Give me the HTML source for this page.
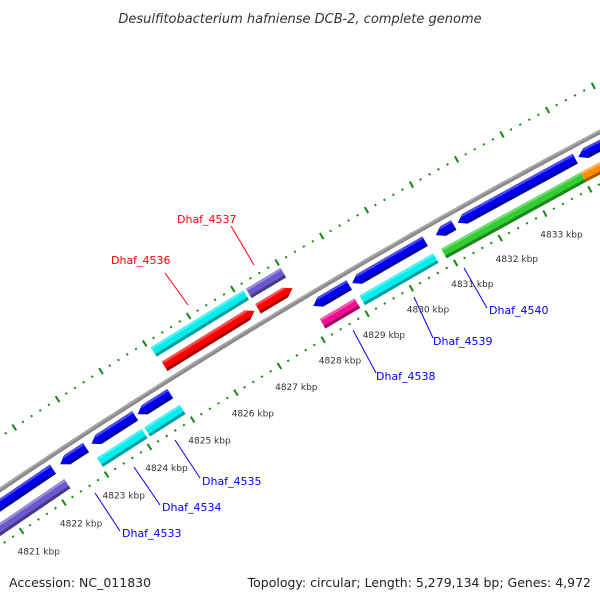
<!DOCTYPE html>
<html><head><meta charset="utf-8"><style>
html,body{margin:0;padding:0;background:#fff;}
svg{display:block;font-family:"DejaVu Sans","Liberation Sans",sans-serif;}
</style></head><body>
<svg id="map" width="600" height="600" viewBox="0 0 600 600" xmlns="http://www.w3.org/2000/svg">
<text x="300" y="23" text-anchor="middle" font-size="13" font-style="italic" fill="#333">Desulfitobacterium hafniense DCB-2, complete genome</text>
<text x="9" y="587" font-size="12.5" fill="#222">Accession: NC_011830</text>
<text x="591" y="587" text-anchor="end" font-size="12.5" fill="#222">Topology: circular; Length: 5,279,134 bp; Genes: 4,972</text>
<g id="ticks"></g>
<g id="backbone"></g>
<g id="feats"></g>
<g id="labels"></g>
</svg>
<script>
// data
const featStart = [4818.5, 4822.35, 4823.08, 4824.15, 4828.17, 4829.05, 4830.93, 4831.42, 4834.1, 4818.5, 4823.02, 4824.12, 4828.15, 4829.05, 4830.89, 4834.0, 4825.09, 4827.22, 4825.06, 4827.22];
const featEnd   = [4822.18, 4822.95, 4824.09, 4824.90, 4828.98, 4830.69, 4831.33, 4834.03, 4837.0, 4822.26, 4824.06, 4824.94, 4828.94, 4830.71, 4834.0, 4837.0, 4827.14, 4828.0, 4827.16, 4828.0];
const featRow   = [2,2,2,2,2,2,2,2,2, 3,3,3,3,3,3,3, 1,1, 0,0];
const featStrand= [-1,-1,-1,-1,-1,-1,-1,-1,-1, 0,0,0,0,0,0,0, 1,1, 0,0];
const featColor = ["#0000ee","#0000ee","#0000ee","#0000ee","#0000ee","#0000ee","#0000ee","#0000ee","#0000ee","#6a5acd","#00eeee","#00eeee","#ee1090","#00eeee","#33cc33","#ff8c00","#ff0000","#ff0000","#00eeee","#6a5acd"];
const kbpTicks = [4821,4822,4823,4824,4825,4826,4827,4828,4829,4830,4831,4832,4833];
const labelNames = ["Dhaf_4536","Dhaf_4537","Dhaf_4538","Dhaf_4539","Dhaf_4540","Dhaf_4535","Dhaf_4534","Dhaf_4533"];
const labelColors = ["#ff0000","#ff0000","#0000ff","#0000ff","#0000ff","#0000ff","#0000ff","#0000ff"];

// geometry
const CX=3606.7, CY=5853, R=6463;
const rowOff=[32,14,-12,-32], H=11;
function ang(k){return (236.49+(k-4822)*0.4556)*Math.PI/180;}
function P(k,r){const a=ang(k);return [CX+r*Math.cos(a),CY+r*Math.sin(a)];}
const NS="http://www.w3.org/2000/svg";
function mk(tag,attrs,parent){const e=document.createElementNS(NS,tag);for(const k in attrs)e.setAttribute(k,attrs[k]);parent.appendChild(e);return e;}
function pts(a){return a.map(p=>p[0].toFixed(1)+","+p[1].toFixed(1)).join(" ");}
function shade(c,f){const n=parseInt(c.slice(1),16);let r=n>>16,g=(n>>8)&255,b=n&255;
 if(f<0){r*=1+f;g*=1+f;b*=1+f;}else{r+=(255-r)*f;g+=(255-g)*f;b+=(255-b)*f;}
 return "rgb("+Math.round(r)+","+Math.round(g)+","+Math.round(b)+")";}

// ticks
const tg=document.getElementById('ticks');
for(let i=0;i<=90;i++){
 const k=4819+i*0.2; const major=(i%5===0);
 [[6417,major?7:2],[6507,major?7:2]].forEach(([r,l])=>{
  const a=P(k,r-l/2),b=P(k,r+l/2);
  const t=mk('line',{x1:a[0],y1:a[1],x2:b[0],y2:b[1],stroke:'#118811','stroke-width':major?2:2},tg);
  
  
 });
}
kbpTicks.forEach(k=>{
 const p=P(k,6410);
 const t=mk('text',{x:(p[0]-8).toFixed(1),y:(p[1]+18).toFixed(1),'font-size':'9',fill:'#333'},tg);
 t.textContent=k+" kbp";
 
 
});

// backbone
const bg=document.getElementById('backbone');
const bp=[];for(let k=4818;k<=4837;k+=0.25)bp.push(P(k,R));
const bl=mk('polyline',{points:pts(bp),fill:'none',stroke:'#8c8c8c','stroke-width':4.5},bg);


const bl2=mk('polyline',{points:pts(bp.map((p,i)=>P(4818+i*0.25,R+1.2))),fill:'none',stroke:'#b0b0b0','stroke-width':1.2},bg);



// features
const fg=document.getElementById('feats');
for(let i=0;i<featStart.length;i++){
 const s=featStart[i],e=featEnd[i],off=rowOff[featRow[i]];
 const r1=R+off-H/2,r2=R+off+H/2,rm=R+off,h=0.16,st=featStrand[i];
 let poly;
 if(st===1) poly=[P(s,r1),P(s,r2),P(e-h,r2),P(e,rm),P(e-h,r1)];
 else if(st===-1) poly=[P(s,rm),P(s+h,r2),P(e,r2),P(e,r1),P(s+h,r1)];
 else poly=[P(s,r1),P(s,r2),P(e,r2),P(e,r1)];
 const g=mk('g',{},fg);
 
 
 mk('polygon',{points:pts(poly),fill:featColor[i]},g);
 // dark lower band
 const d1=r1,d2=r1+3;
 let dp;
 if(st===1) dp=[P(s,d1),P(s,d2),P(e-h*0.7,d2),P(e-h,d1)];
 else if(st===-1) dp=[P(s+h*0.7,d2),P(e,d2),P(e,d1),P(s+h,d1)];
 else dp=[P(s,d1),P(s,d2),P(e,d2),P(e,d1)];
 mk('polygon',{points:pts(dp),fill:shade(featColor[i],-0.35)},g);
 const l1=r2-2.5,l2=r2;
 let lp;
 if(st===1) lp=[P(s,l1),P(s,l2),P(e-h,l2),P(e-h*0.75,l1)];
 else if(st===-1) lp=[P(s+h*0.75,l1),P(s+h,l2),P(e,l2),P(e,l1)];
 else lp=[P(s,l1),P(s,l2),P(e,l2),P(e,l1)];
 mk('polygon',{points:pts(lp),fill:shade(featColor[i],0.3)},g);
}

// labels (layout positions)
const labelPos=[[111,264,165,273,188,305],[177,223,231,226,254,265],[376,380,353,330,376,373],[433,345,414,297,433,338],[489,314,464,268,487,308],[202,485,175,440,200,478],[162,511,134,467,160,505],[122,537,95,493,120,531]];
const lg=document.getElementById('labels');
labelNames.forEach((n,i)=>{
 const q=labelPos[i];
 const ln=mk('line',{x1:q[2],y1:q[3],x2:q[4],y2:q[5],stroke:labelColors[i],'stroke-width':1},lg);
 
 
 const t=mk('text',{x:q[0],y:q[1],'font-size':'11',fill:labelColors[i]},lg);
 t.textContent=n;
 
 
});
</script>
</body></html>
